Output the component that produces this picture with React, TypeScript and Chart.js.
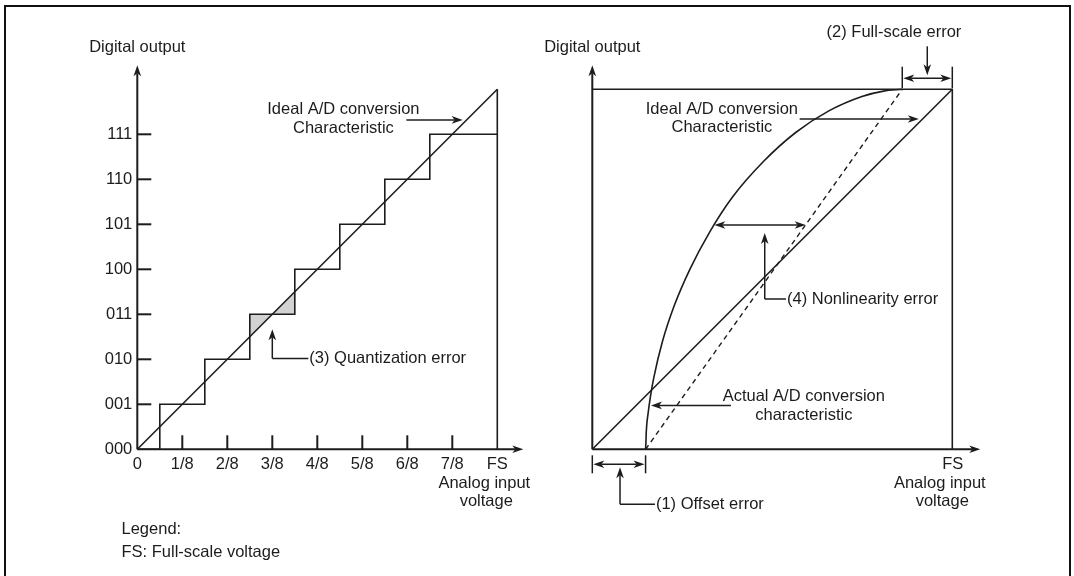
import React, { useEffect, useRef } from "react";
import { Chart, registerables } from "chart.js";

Chart.register(...registerables);

const FONT = '"Liberation Sans", Arial, Helvetica, sans-serif';
const INK = "#1c1c1c";

// ---------- Left chart: ideal 3-bit A/D conversion (x in eighths of FS, y in codes) ----------
const codeValues = [0, 1, 2, 3, 4, 5, 6, 7];
const codeLabels = ["000", "001", "010", "011", "100", "101", "110", "111"];
const inputValues = [0, 1, 2, 3, 4, 5, 6, 7, 8];
const inputLabels = ["0", "1/8", "2/8", "3/8", "4/8", "5/8", "6/8", "7/8", "FS"];
const stairX = [0, 0.5, 0.5, 1.5, 1.5, 2.5, 2.5, 3.5, 3.5, 4.5, 4.5, 5.5, 5.5, 6.5, 6.5, 8];
const stairY = [0, 0, 1, 1, 2, 2, 3, 3, 4, 4, 5, 5, 6, 6, 7, 7];
const idealLeftX = [0, 8];
const idealLeftY = [0, 8];
const fsLineX = [8, 8];
const fsLineY = [0, 8];
const quantTriAX = [2.5, 2.5, 3, 2.5];
const quantTriAY = [2.5, 3, 3, 2.5];
const quantTriBX = [3, 3.5, 3.5, 3];
const quantTriBY = [3, 3, 3.5, 3];

// ---------- Right chart: A/D conversion errors (percent of FS) ----------
const idealRightX = [0, 100];
const idealRightY = [0, 100];
const boxX = [0, 100, 100];
const boxY = [100, 100, 0];
const actualX = [14.8, 14.9, 15.0, 15.5, 16.2, 17.1, 19.5, 22.8, 27.1, 32.4, 38.9, 47.6, 56.5, 65.7, 74.9, 80.9, 86.1];
const actualY = [0, 2, 5, 10, 15, 20, 30, 40, 50, 60, 70, 80, 88, 94, 98, 99.5, 100];
const endpointX = [14.8, 86.1];
const endpointY = [0, 100];

const pts = (xs: number[], ys: number[]) => xs.map((x, i) => ({ x, y: ys[i] }));

function head(ctx: CanvasRenderingContext2D, x: number, y: number, dx: number, dy: number) {
  const len = Math.hypot(dx, dy);
  const ux = dx / len, uy = dy / len;
  const px = -uy, py = ux;
  const L = 11, W = 3.8, N = 8;
  ctx.beginPath();
  ctx.moveTo(x, y);
  ctx.lineTo(x - ux * L + px * W, y - uy * L + py * W);
  ctx.lineTo(x - ux * N, y - uy * N);
  ctx.lineTo(x - ux * L - px * W, y - uy * L - py * W);
  ctx.closePath();
  ctx.fill();
}

function seg(ctx: CanvasRenderingContext2D, x1: number, y1: number, x2: number, y2: number, w = 1.5) {
  ctx.lineWidth = w;
  ctx.beginPath();
  ctx.moveTo(x1, y1);
  ctx.lineTo(x2, y2);
  ctx.stroke();
}

function arrow(ctx: CanvasRenderingContext2D, x1: number, y1: number, x2: number, y2: number, w = 1.5) {
  const len = Math.hypot(x2 - x1, y2 - y1);
  const ux = (x2 - x1) / len, uy = (y2 - y1) / len;
  seg(ctx, x1, y1, x2 - ux * 8, y2 - uy * 8, w);
  head(ctx, x2, y2, ux, uy);
}

function dblArrow(ctx: CanvasRenderingContext2D, x1: number, y1: number, x2: number, y2: number) {
  const len = Math.hypot(x2 - x1, y2 - y1);
  const ux = (x2 - x1) / len, uy = (y2 - y1) / len;
  seg(ctx, x1 + ux * 8, y1 + uy * 8, x2 - ux * 8, y2 - uy * 8);
  head(ctx, x2, y2, ux, uy);
  head(ctx, x1, y1, -ux, -uy);
}

function text(ctx: CanvasRenderingContext2D, s: string, x: number, y: number, align: CanvasTextAlign = "center") {
  ctx.textAlign = align;
  ctx.textBaseline = "middle";
  ctx.fillText(s, x, y);
}

type Drawer = (ctx: CanvasRenderingContext2D, X: (v: number) => number, Y: (v: number) => number) => void;

function annotations(draw: Drawer) {
  return {
    id: "annotations",
    afterDraw(chart: any) {
      const ctx: CanvasRenderingContext2D = chart.ctx;
      const X = (v: number) => chart.scales.x.getPixelForValue(v);
      const Y = (v: number) => chart.scales.y.getPixelForValue(v);
      ctx.save();
      ctx.strokeStyle = INK;
      ctx.fillStyle = INK;
      ctx.lineCap = "butt";
      ctx.font = `16.5px ${FONT}`;
      draw(ctx, X, Y);
      ctx.restore();
    },
  };
}

const lineDs = (data: { x: number; y: number }[], extra: any = {}) => ({
  data,
  borderColor: INK,
  borderWidth: 1.6,
  pointRadius: 0,
  fill: false,
  tension: 0,
  clip: false as any,
  ...extra,
});

const baseOptions = (padding: any, max: number) => ({
  responsive: false,
  devicePixelRatio: 1,
  animation: false as const,
  events: [] as any[],
  layout: { padding },
  plugins: { legend: { display: false }, tooltip: { enabled: false } },
  scales: {
    x: { type: "linear" as const, min: 0, max, display: false },
    y: { type: "linear" as const, min: 0, max, display: false },
  },
});

const drawLeft: Drawer = (ctx, X, Y) => {
  const x0 = X(0), y0 = Y(0);
  // axes
  arrow(ctx, x0, y0, x0, Y(8) - 24, 2);
  arrow(ctx, x0, y0, X(8) + 26, y0, 2);
  // y ticks + labels
  codeValues.forEach((v, i) => {
    if (v > 0) seg(ctx, x0, Y(v), x0 + 14, Y(v), 2);
    text(ctx, codeLabels[i], x0 - 5, Y(v), "right");
  });
  // x ticks + labels
  inputValues.forEach((v, i) => {
    if (v > 0 && v < 8) seg(ctx, X(v), y0, X(v), y0 - 14, 2);
    text(ctx, inputLabels[i], X(v), y0 + 15);
  });
  text(ctx, "Digital output", x0, Y(8) - 42);
  text(ctx, "Analog input", X(8) - 13, y0 + 34);
  text(ctx, "voltage", X(8) - 11, y0 + 52);
  text(ctx, "Legend:", 121.5, y0 + 80, "left");
  text(ctx, "FS: Full-scale voltage", 121.5, y0 + 103.5, "left");
  // ideal characteristic callout
  text(ctx, "Ideal A/D conversion", X(4.58), Y(7.56));
  text(ctx, "Characteristic", X(4.58), Y(7.14));
  arrow(ctx, X(5.98), Y(7.32), X(7.23), Y(7.32));
  // quantization error callout
  arrow(ctx, X(3), Y(2.02), X(3), Y(2.67));
  seg(ctx, X(3), Y(2.02), X(3.8), Y(2.02));
  text(ctx, "(3) Quantization error", X(3.8) + 1, Y(2.02), "left");
};

const drawRight: Drawer = (ctx, X, Y) => {
  const x0 = X(0), y0 = Y(0);
  arrow(ctx, x0, y0, x0, Y(100) - 24, 2);
  arrow(ctx, x0, y0, X(100) + 28, y0, 2);
  text(ctx, "Digital output", x0, Y(100) - 42);
  text(ctx, "FS", X(100) + 0.5, y0 + 15);
  text(ctx, "Analog input", X(100) - 12.5, y0 + 34);
  text(ctx, "voltage", X(100) - 10, y0 + 52);
  // (2) full-scale error
  const top = Y(100);
  seg(ctx, X(86.1), top - 22.6, X(86.1), top - 1.3);
  seg(ctx, X(100), top - 22.6, X(100), top - 1.3);
  dblArrow(ctx, X(86.1) + 1, top - 11, X(100) - 1, top - 11);
  arrow(ctx, X(93.05), top - 43, X(93.05), top - 14);
  text(ctx, "(2) Full-scale error", X(83.8), top - 57);
  // ideal characteristic callout
  text(ctx, "Ideal A/D conversion", X(36), Y(94.4));
  text(ctx, "Characteristic", X(36), Y(89.3));
  arrow(ctx, X(57.6), Y(91.75), X(90.7), Y(91.75));
  // (4) nonlinearity
  dblArrow(ctx, X(33.9), Y(62.3), X(59.26), Y(62.3));
  arrow(ctx, X(47.9), Y(41.75), X(47.9), Y(60.1));
  seg(ctx, X(47.9), Y(41.75), X(53.8), Y(41.75));
  text(ctx, "(4) Nonlinearity error", X(53.8) + 1, Y(41.75), "left");
  // actual characteristic callout
  text(ctx, "Actual A/D conversion", X(58.75), Y(14.6));
  text(ctx, "characteristic", X(58.75), Y(9.5));
  arrow(ctx, X(38.5), Y(12.2), X(16.3), Y(12.2));
  // (1) offset error
  seg(ctx, X(0), y0 + 6, X(0), y0 + 24);
  seg(ctx, X(14.8), y0 + 6, X(14.8), y0 + 24);
  dblArrow(ctx, X(0) + 1, y0 + 15, X(14.8) - 1, y0 + 15);
  arrow(ctx, X(7.7), y0 + 55, X(7.7), y0 + 18);
  seg(ctx, X(7.7), y0 + 55, X(17.4), y0 + 55);
  text(ctx, "(1) Offset error", X(17.4) + 1, y0 + 55, "left");
};

export default function App() {
  const leftRef = useRef<HTMLCanvasElement>(null);
  const rightRef = useRef<HTMLCanvasElement>(null);

  useEffect(() => {
    const left = new Chart(leftRef.current as HTMLCanvasElement, {
      type: "line",
      data: {
        datasets: [
          lineDs(pts(stairX, stairY)),
          lineDs(pts(idealLeftX, idealLeftY)),
          lineDs(pts(fsLineX, fsLineY)),
          lineDs(pts(quantTriAX, quantTriAY), { fill: "shape", backgroundColor: "#d2d2d2", borderWidth: 0, order: 10 }),
          lineDs(pts(quantTriBX, quantTriBY), { fill: "shape", backgroundColor: "#d2d2d2", borderWidth: 0, order: 10 }),
        ],
      },
      options: baseOptions({ left: 137.3, right: 39.7, top: 89.3, bottom: 126.7 }, 8) as any,
      plugins: [annotations(drawLeft)],
    });
    const right = new Chart(rightRef.current as HTMLCanvasElement, {
      type: "line",
      data: {
        datasets: [
          lineDs(pts(boxX, boxY)),
          lineDs(pts(idealRightX, idealRightY)),
          lineDs(pts(actualX, actualY), { cubicInterpolationMode: "monotone" }),
          lineDs(pts(endpointX, endpointY), { borderDash: [5, 4], borderWidth: 1.4 }),
        ],
      },
      options: baseOptions({ left: 55.3, right: 121.7, top: 89.3, bottom: 126.7 }, 100) as any,
      plugins: [annotations(drawRight)],
    });
    return () => {
      left.destroy();
      right.destroy();
    };
  }, []);

  return (
    <div style={{ position: "fixed", left: 0, top: 0, width: 1074, height: 576, background: "#fff", overflow: "hidden" }}>
      <div
        style={{
          position: "absolute",
          left: 4,
          top: 5,
          width: 1067,
          height: 640,
          border: "2px solid #111",
          boxSizing: "border-box",
        }}
      />
      <canvas ref={leftRef} width={537} height={576} style={{ position: "absolute", left: 0, top: 0, width: 537, height: 576 }} />
      <canvas ref={rightRef} width={537} height={576} style={{ position: "absolute", left: 537, top: 0, width: 537, height: 576 }} />
    </div>
  );
}
